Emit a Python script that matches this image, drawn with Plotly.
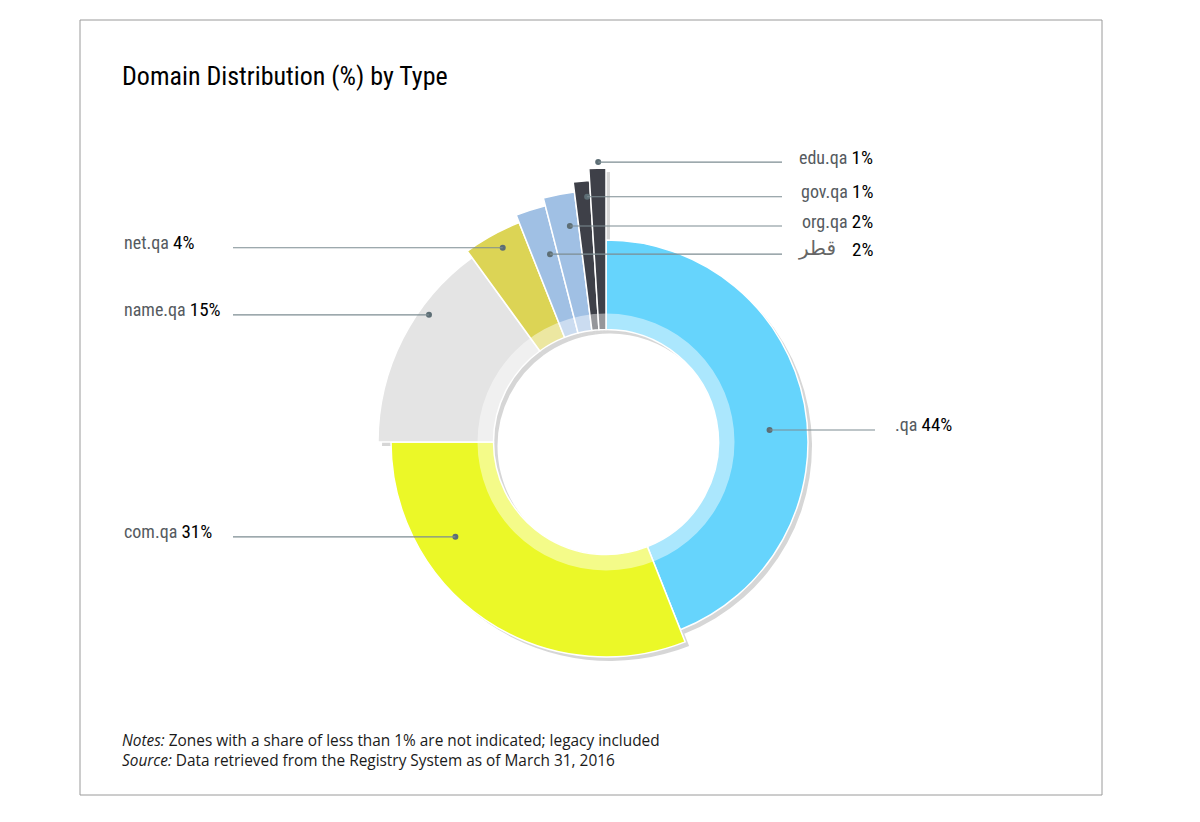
import math
import plotly.graph_objects as go

# data
zones = [".qa", "com.qa", "name.qa", "net.qa", "قطر", "org.qa", "gov.qa", "edu.qa"]
shares = [44, 31, 15, 4, 2, 2, 1, 1]
share_labels = ["44%", "31%", "15%", "4%", "2%", "2%", "1%", "1%"]

# styling
colors = ["#66d4fc", "#ebf828", "#e4e4e4", "#dcd455", "#a0c0e4", "#a0c0e4", "#3e4048", "#3e4048"]
outer_radius = [202, 215, 228, 236, 244, 252, 262, 274]
HOLE = 112.5

W, H = 1200, 822
OFF = 8                # page body margin in the browser
CX, CY = 606, 442      # donut centre (px, as seen on the page)
RMAX = 300             # radial range == pixels

# leader anchors (angle, radius) and label placement
anchor_theta = [85.8, 237.8, 305.7, 332.0, 343.4, 350.5, 355.6, 358.4]
anchor_r = [164, 178, 218, 220, 196, 219, 246, 280]
label_side = ["qa", "left", "left", "left", "right", "right", "right", "right"]

LABEL_FONT = "Roboto Condensed, Liberation Sans Narrow, DejaVu Sans Condensed, Roboto"

# slice geometry from the shares
widths = [s * 3.6 for s in shares]
mids = []
acc = 0
for w in widths:
    mids.append(acc + w / 2)
    acc += w
lengths = [r - HOLE for r in outer_radius]


def px(x):
    return (x - OFF) / W


def py(y):
    return (H - (y - OFF)) / H


def polar_domain(dx=0, dy=0):
    return dict(x=[px(CX + dx - RMAX), px(CX + dx + RMAX)],
                y=[py(CY + dy + RMAX), py(CY + dy - RMAX)])


def polar_axes(dom):
    return dict(
        domain=dom,
        bgcolor="rgba(0,0,0,0)",
        angularaxis=dict(visible=False, direction="clockwise", rotation=90),
        radialaxis=dict(visible=False, range=[0, RMAX]),
    )


fig = go.Figure()

# soft drop shadow
fig.add_trace(go.Barpolar(
    r=lengths, base=[HOLE] * len(zones), theta=mids, width=widths,
    marker=dict(color="rgba(0,0,0,0.16)", line=dict(width=0)),
    subplot="polar", hoverinfo="skip", showlegend=False))

# slices
fig.add_trace(go.Barpolar(
    r=lengths, base=[HOLE] * len(zones), theta=mids, width=widths,
    marker=dict(color=colors, line=dict(color="white", width=1.5)),
    subplot="polar2", hoverinfo="skip", showlegend=False))

# pale inner band
fig.add_trace(go.Barpolar(
    r=[16], base=[HOLE], theta=[180], width=[360],
    marker=dict(color="rgba(255,255,255,0.45)", line=dict(width=0)),
    subplot="polar2", hoverinfo="skip", showlegend=False))

# leader dots
fig.add_trace(go.Scatterpolar(
    r=anchor_r, theta=anchor_theta, mode="markers",
    marker=dict(color="#5d6e75", size=6),
    subplot="polar2", hoverinfo="skip", showlegend=False, cliponaxis=False))

fig.update_layout(
    polar=polar_axes(polar_domain(4, 4)),
    polar2=polar_axes(polar_domain()),
)

shapes = []
annotations = []
for i, z in enumerate(zones):
    t = math.radians(anchor_theta[i])
    x0 = CX + anchor_r[i] * math.sin(t)
    y0 = CY - anchor_r[i] * math.cos(t)
    side = label_side[i]
    if side == "right":
        x1, lx, anchor = 782, 875, "right"
    elif side == "left":
        x1, lx, anchor = 233, 122, "left"
    else:
        x1, lx, anchor = 875, 893, "left"
    shapes.append(dict(type="line", xref="paper", yref="paper", layer="above",
                       x0=px(x0), x1=px(x1), y0=py(y0), y1=py(y0),
                       line=dict(color="#7d8c92", width=1.2)))
    value = "<span style='color:#000;font-size:19px'>%s</span>" % share_labels[i]
    if z == "قطر":
        # arabic name kept apart so the bidi ordering does not swap it with the number
        annotations.append(dict(
            xref="paper", yref="paper", x=px(lx), y=py(y0 - 5),
            xanchor="right", yanchor="middle", showarrow=False, text=value,
            font=dict(family=LABEL_FONT, size=18, color="#555a60")))
        annotations.append(dict(
            xref="paper", yref="paper", x=px(lx - 37), y=py(y0 - 6),
            xanchor="right", yanchor="middle", showarrow=False, text=z,
            font=dict(family="DejaVu Sans", size=20, color="#666")))
        continue
    annotations.append(dict(
        xref="paper", yref="paper", x=px(lx), y=py(y0 - 5),
        xanchor=anchor, yanchor="middle", showarrow=False,
        text="<span style='color:#555a60'>%s</span> " % z + value,
        font=dict(family=LABEL_FONT, size=18, color="#555a60")))

annotations.append(dict(
    xref="paper", yref="paper", x=px(120), y=py(76), xanchor="left", yanchor="middle",
    showarrow=False, text="Domain Distribution (%) by Type",
    font=dict(family=LABEL_FONT, size=26, color="#000")))
annotations.append(dict(
    xref="paper", yref="paper", x=px(120), y=py(750), xanchor="left", yanchor="middle",
    showarrow=False, align="left",
    text="<i>Notes:</i> Zones with a share of less than 1% are not indicated; legacy included"
         "<br><i>Source:</i> Data retrieved from the Registry System as of March 31, 2016",
    font=dict(family="Open Sans", size=15.4, color="#1a1a1a")))

# frame
shapes.append(dict(type="rect", xref="paper", yref="paper", layer="below",
                   x0=px(80), x1=px(1102), y0=py(795), y1=py(20),
                   line=dict(color="#9a9a9a", width=1)))

fig.update_layout(
    width=W, height=H,
    margin=dict(l=0, r=0, t=0, b=0),
    paper_bgcolor="white", plot_bgcolor="white",
    shapes=shapes, annotations=annotations,
    showlegend=False,
)

fig.write_html("out.html")
